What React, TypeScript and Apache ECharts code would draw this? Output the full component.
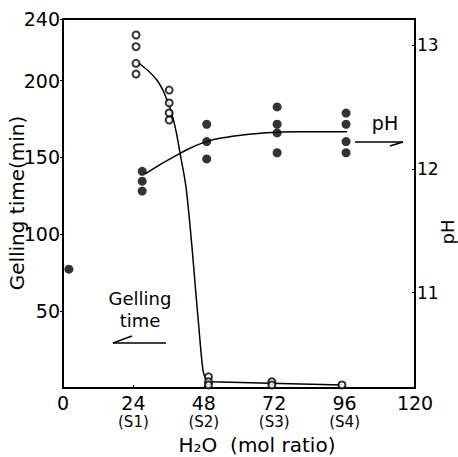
import React, { useEffect, useRef } from 'react';
import * as echarts from 'echarts';

// X axis (H2O mol ratio)
const xTicks = [0, 24, 48, 72, 96, 120];
const xSampleNames = ['', 'S1', 'S2', 'S3', 'S4', ''];
// Left axis (gelling time, min)
const gelTicks = [50, 100, 150, 200, 240];
// Right axis (pH)
const phTicks = [11, 12, 13];

// Gelling time measurements (open circles)
const gelX = [24.9, 24.9, 24.9, 24.9, 36.2, 36.2, 36.2, 36.2, 49.6, 49.6, 49.6, 71.2, 71.2, 95.1];
const gelY = [229.6, 222, 211.2, 204.2, 193.8, 185.4, 178.9, 174.3, 7.3, 4.1, 2, 4.1, 2, 2];
// Gelling time hand-drawn curve: steep part and flat tail
const gelCurveX = [25.2, 32, 35.9, 38.2, 39.9, 42.2, 46.1, 47.7, 48.5];
const gelCurveY = [212.2, 200.3, 185.2, 170, 152.7, 126.6, 44.2, 11.7, 6.5];
const gelTailX = [48.5, 50.2, 70.6, 95.1];
const gelTailY = [6.5, 4.1, 3.1, 2];

// pH measurements (filled circles)
const phX = [2, 27, 27, 27, 49, 49, 49, 73, 73, 73, 73, 96.5, 96.5, 96.5, 96.5];
const phY = [11.19, 11.98, 11.9, 11.82, 12.36, 12.22, 12.08, 12.5, 12.36, 12.29, 12.13, 12.45, 12.36, 12.22, 12.13];
// pH curve
const phCurveX = [28, 39.9, 48.8, 57, 68.3, 80, 96.8];
const phCurveY = [11.96, 12.125, 12.22, 12.26, 12.29, 12.3, 12.3];

const FONT = 'DejaVu Sans';

const zip = (a: number[], b: number[]) => a.map((v, i) => [v, b[i]]);

export default function App() {
  const ref = useRef<HTMLDivElement>(null);
  useEffect(() => {
    if (!ref.current) return;
    const chart = echarts.init(ref.current, undefined, { renderer: 'svg' });
    const black = '#000';
    const lineSeries = (yAxisIndex: number, data: number[][], smooth: number | boolean) => ({
      type: 'line', yAxisIndex, data, smooth,
      showSymbol: false, symbol: 'none', lineStyle: { color: black, width: 1.5 }, silent: true, z: 1,
    });
    chart.setOption({
      animation: false,
      backgroundColor: '#fff',
      textStyle: { fontFamily: FONT, color: black },
      grid: {
        left: 63, right: 43, top: 19, bottom: 69,
        outerBoundsMode: 'none', containLabel: false,
        show: true, borderColor: black, borderWidth: 2,
      },
      xAxis: {
        type: 'value', min: 0, max: 120, interval: 24,
        axisLine: { show: true, lineStyle: { color: black, width: 2 } },
        axisTick: { show: true, inside: true, length: 3, lineStyle: { color: black } },
        splitLine: { show: false },
        axisLabel: {
          margin: 5, color: black, fontFamily: FONT,
          formatter: (v: number) => {
            const i = xTicks.indexOf(v);
            const s = i >= 0 ? xSampleNames[i] : '';
            return s ? `{n|${v}}\n{s|(${s})}` : `{n|${v}}`;
          },
          rich: {
            n: { fontSize: 19, lineHeight: 19, fontFamily: FONT, color: black },
            s: { fontSize: 15, lineHeight: 19, fontFamily: FONT, color: black },
          },
        },
      },
      yAxis: [
        {
          type: 'value', min: 0, max: 240,
          position: 'left',
          axisLine: { show: true, lineStyle: { color: black, width: 2 } },
          axisTick: { show: true, length: 3, lineStyle: { color: black }, customValues: gelTicks },
          splitLine: { show: false },
          axisLabel: { margin: 3, fontSize: 19, color: black, fontFamily: FONT, customValues: gelTicks },
        },
        {
          type: 'value', min: 10.23, max: 13.21,
          position: 'right',
          axisLine: { show: true, lineStyle: { color: black, width: 2 } },
          axisTick: { show: true, inside: true, length: 3, lineStyle: { color: black }, customValues: phTicks },
          splitLine: { show: false },
          axisLabel: { margin: 2, fontSize: 17, color: black, fontFamily: FONT, customValues: phTicks },
        },
      ],
      graphic: [
        { type: 'text', x: 17, y: 203, rotation: Math.PI / 2, style: { text: 'Gelling time(min)', font: `20px "${FONT}"`, fill: black, align: 'center', verticalAlign: 'middle' } },
        { type: 'text', x: 257, y: 445, style: { text: 'H₂O  (mol ratio)', font: `20px "${FONT}"`, fill: black, align: 'center', verticalAlign: 'middle' } },
        { type: 'text', x: 447, y: 232, rotation: Math.PI / 2, style: { text: 'pH', font: `18px "${FONT}"`, fill: black, align: 'center', verticalAlign: 'middle' } },
        { type: 'text', x: 140, y: 298, style: { text: 'Gelling', font: `18px "${FONT}"`, fill: black, align: 'center', verticalAlign: 'middle' } },
        { type: 'text', x: 140, y: 320, style: { text: 'time', font: `18px "${FONT}"`, fill: black, align: 'center', verticalAlign: 'middle' } },
        { type: 'line', shape: { x1: 113, y1: 343, x2: 166, y2: 343 }, style: { stroke: black, lineWidth: 1.5 } },
        { type: 'line', shape: { x1: 113, y1: 343, x2: 132, y2: 336 }, style: { stroke: black, lineWidth: 1.5 } },
        { type: 'text', x: 385, y: 123, style: { text: 'pH', font: `19px "${FONT}"`, fill: black, align: 'center', verticalAlign: 'middle' } },
        { type: 'line', shape: { x1: 355, y1: 142, x2: 403, y2: 142 }, style: { stroke: black, lineWidth: 1.5 } },
        { type: 'line', shape: { x1: 403, y1: 142, x2: 390, y2: 146 }, style: { stroke: black, lineWidth: 1.5 } },
      ],
      series: [
        lineSeries(0, zip(gelCurveX, gelCurveY), 0.4),
        lineSeries(0, zip(gelTailX, gelTailY), false),
        lineSeries(1, zip(phCurveX, phCurveY), 0.5),
        {
          type: 'scatter', yAxisIndex: 0, data: zip(gelX, gelY), symbol: 'circle', symbolSize: 7,
          itemStyle: { color: '#fff', borderColor: black, borderWidth: 2 }, z: 3,
        },
        {
          type: 'scatter', yAxisIndex: 1, data: zip(phX, phY), symbol: 'circle', symbolSize: 9,
          itemStyle: { color: black }, z: 3,
        },
      ],
    });
    return () => chart.dispose();
  }, []);
  return <div ref={ref} style={{ position: 'fixed', left: 0, top: 0, width: 458, height: 457 }} />;
}
